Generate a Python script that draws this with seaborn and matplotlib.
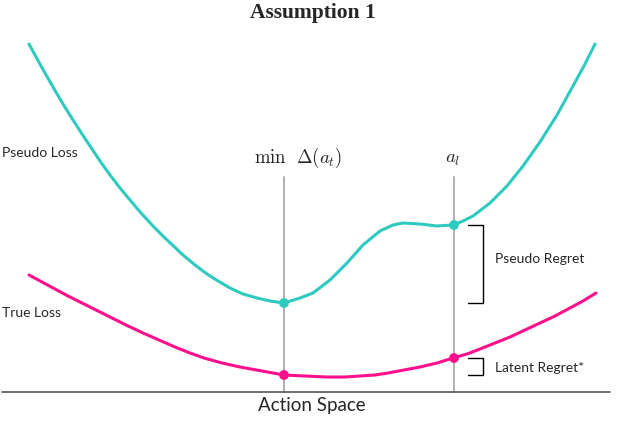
import numpy as np
import pandas as pd
import matplotlib
matplotlib.use("Agg")
import matplotlib.pyplot as plt
import seaborn as sns

# curves (x = action, y = loss above the baseline)
pseudo_x = [29, 41, 53, 63, 73, 82, 90, 100, 110, 120, 130, 141, 153, 165, 183, 195,
            207, 218, 230, 243, 257, 270, 284, 300, 313, 330, 347, 363, 380, 393,
            403, 420, 437, 453, 463, 473, 490, 507, 523, 540, 557, 573, 585, 595]
pseudo_y = [348, 326, 305, 288, 272, 258, 246, 231, 217, 204, 192, 179, 166, 154, 137, 127,
            118, 111, 104, 98, 94, 91, 89, 94, 99, 112, 129, 147, 161, 167,
            169, 168, 166, 167, 171, 176, 189, 206, 226, 250, 277, 306, 328, 348]
true_x = [29, 42, 55, 68, 82, 96, 110, 126, 143, 159, 175, 190, 204, 222, 240, 262, 284,
          305, 327, 345, 360, 375, 388, 404, 420, 437, 453, 467, 480, 495, 510, 525,
          540, 555, 570, 583, 596]
true_y = [117, 110, 103, 96, 89, 82, 75, 67, 59, 52, 45, 39, 34, 29, 25, 21, 17,
          16, 15, 15, 16, 17, 19, 22, 25, 29, 34, 38, 43, 49, 55, 62,
          69, 76, 84, 91, 99]

# marked actions and the losses there
marked_x = [284, 454]
pseudo_marks = [89, 167]
true_marks = [17, 34]

teal = "#2ec9bf"
pink = "#ff0f8c"

sns.set_theme(style="white")
plt.rcParams["mathtext.fontset"] = "cm"

fig = plt.figure(figsize=(6.4, 4.45), dpi=100)
ax = fig.add_axes([0, 0, 1, 1])

pseudo = pd.DataFrame({"action": pseudo_x, "loss": pseudo_y})
true = pd.DataFrame({"action": true_x, "loss": true_y})

for x in marked_x:
    ax.plot([x, x], [0, 215], color="#b0b0b0", lw=1.4, zorder=1)

sns.lineplot(data=pseudo, x="action", y="loss", sort=False, color=teal, lw=2.2, ax=ax)
sns.lineplot(data=true, x="action", y="loss", sort=False, color=pink, lw=2.2, ax=ax)
sns.scatterplot(x=marked_x, y=pseudo_marks, color=teal, s=50, edgecolor="none", ax=ax, zorder=3)
sns.scatterplot(x=marked_x, y=true_marks, color=pink, s=50, edgecolor="none", ax=ax, zorder=3)

# baseline
ax.plot([2, 610], [0, 0], color="#555555", lw=1.2)

# regret brackets
for lo, hi in [(pseudo_marks[0], pseudo_marks[1]), (true_marks[0], true_marks[1])]:
    ax.plot([468, 483, 483, 468], [hi, hi, lo, lo], color="black", lw=1.0)

sans = ["Lato", "DejaVu Sans"]
ax.text(313, 379, "Assumption 1", ha="center", va="center", fontsize=15.5,
        fontweight="bold", family=["Liberation Serif", "DejaVu Serif"])
ax.text(2, 239, "Pseudo Loss", ha="left", va="center", fontsize=10, family=sans)
ax.text(2, 79, "True Loss", ha="left", va="center", fontsize=10, family=sans)
ax.text(495, 133, "Pseudo Regret", ha="left", va="center", fontsize=10, family=sans)
ax.text(495, 24, "Latent Regret*", ha="left", va="center", fontsize=10, family=sans)
ax.text(312, -14, "Action Space", ha="center", va="center", fontsize=13.5, family=sans)
ax.text(298, 234, r"$\min\ \ \Delta(a_t)$", ha="center", va="center", fontsize=13.5)
ax.text(453, 234, r"$a_l$", ha="center", va="center", fontsize=13.5)

ax.set_xlim(0, 640)
ax.set_ylim(-53, 392)
ax.axis("off")

fig.savefig("out.png", dpi=100)
